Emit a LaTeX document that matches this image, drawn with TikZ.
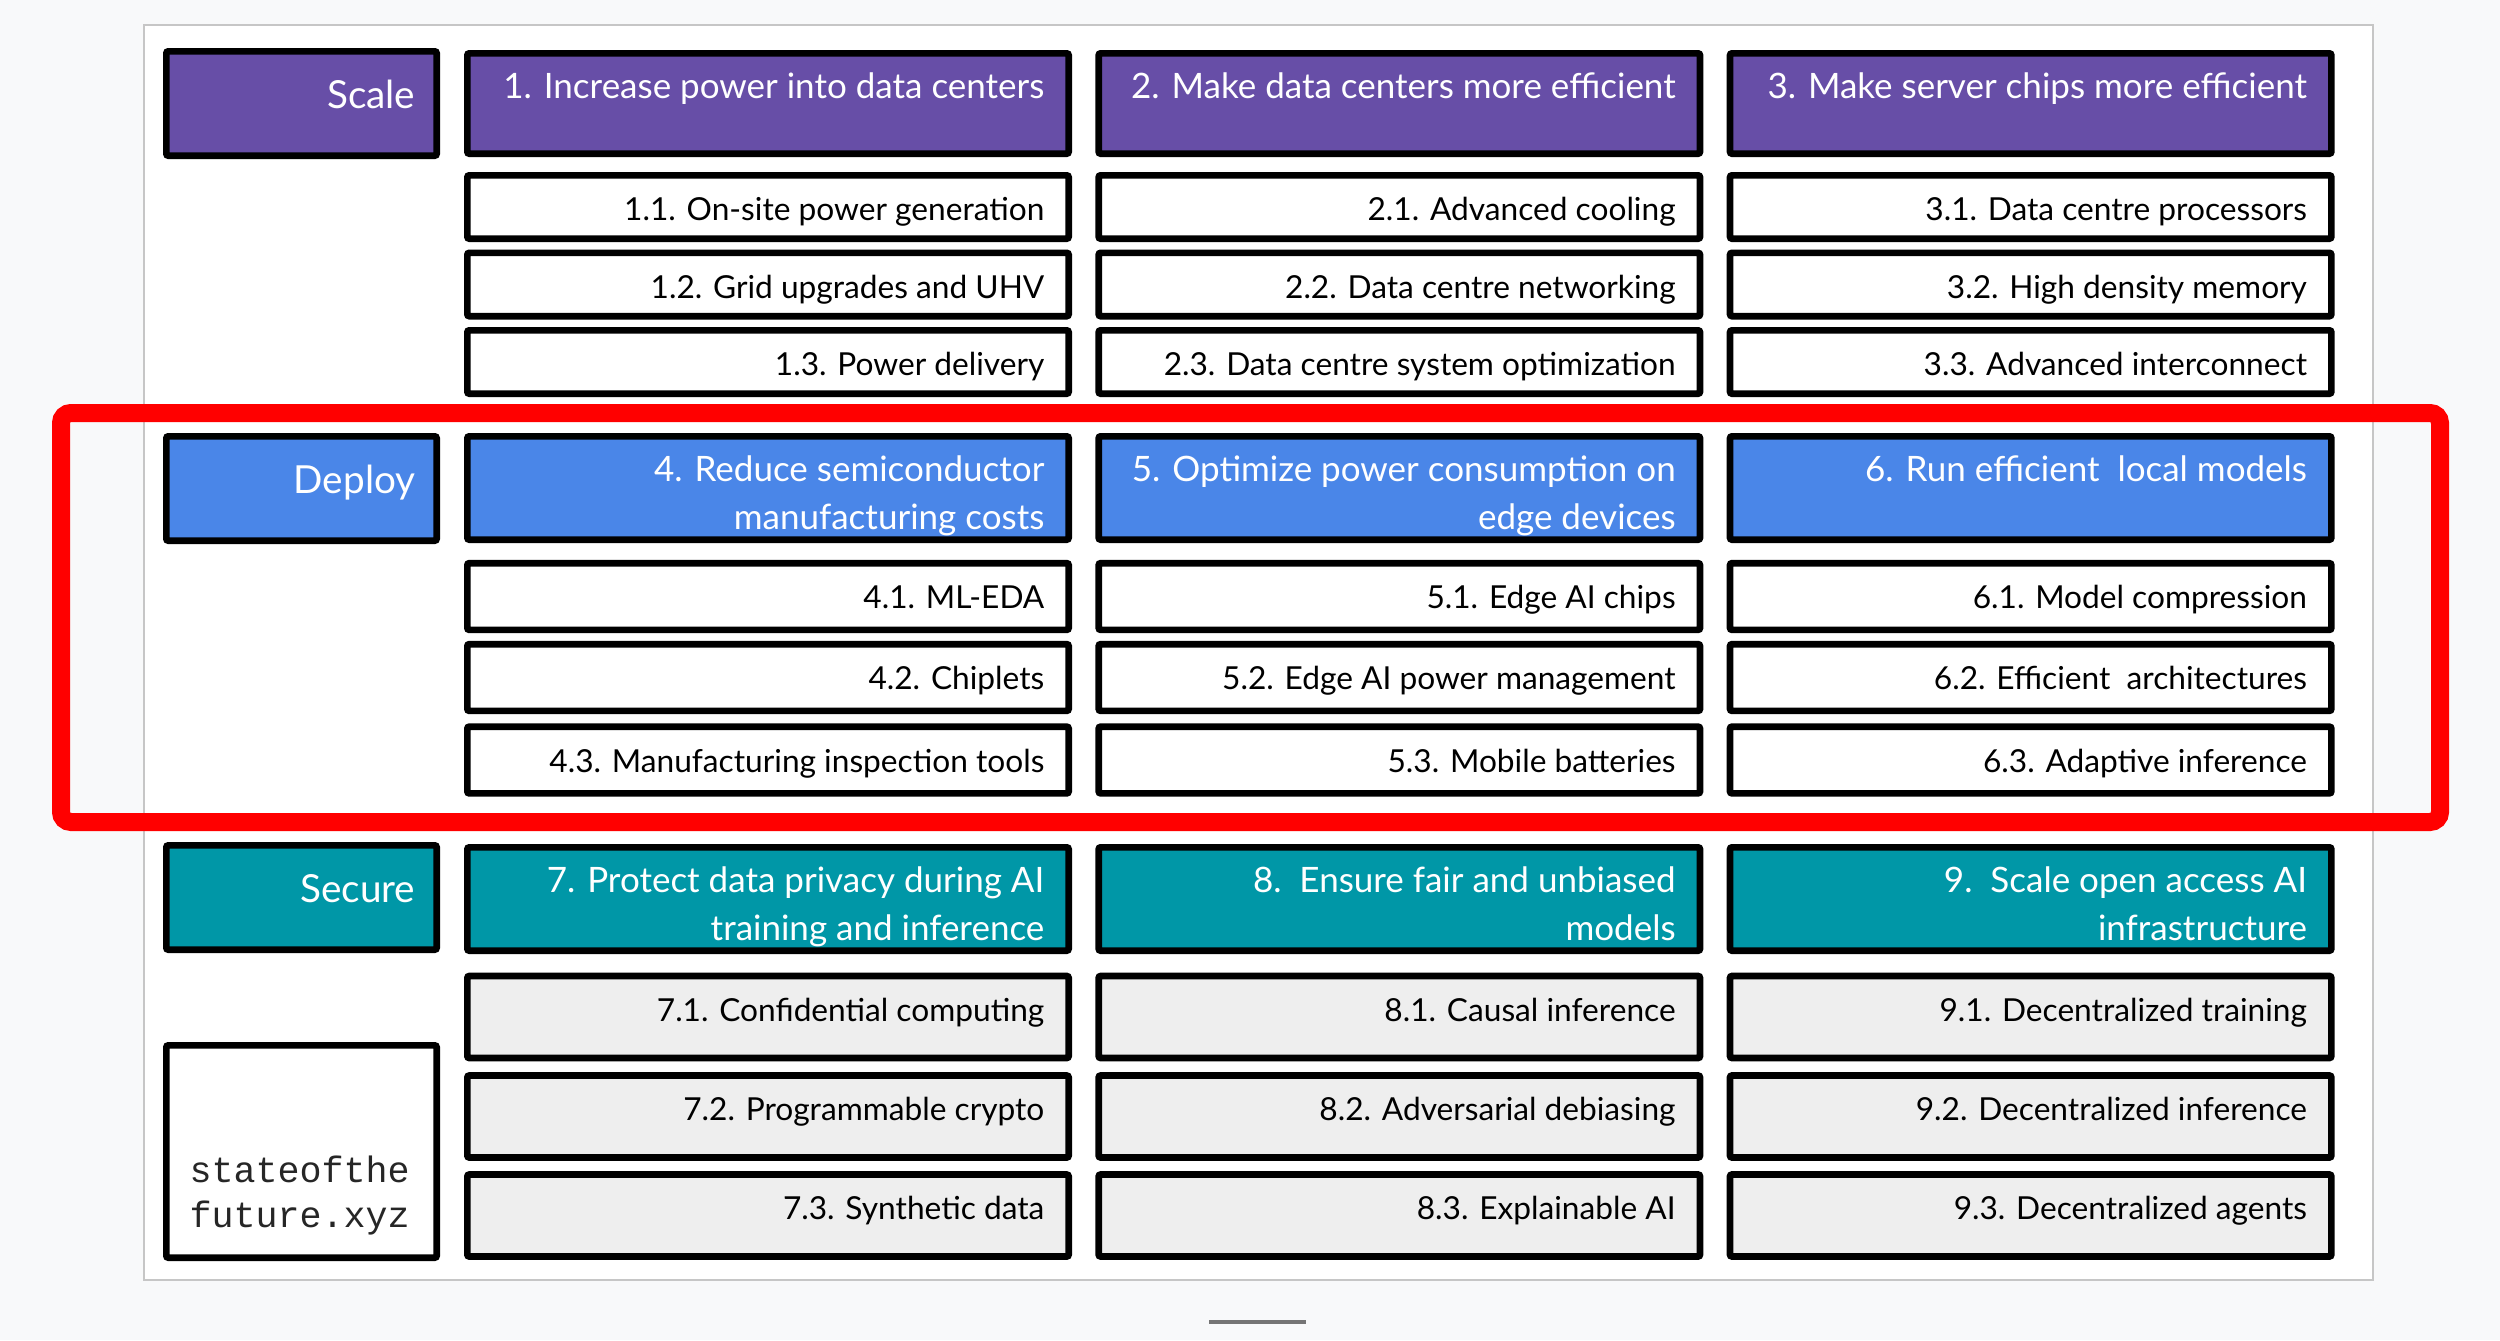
\documentclass[tikz,border=0pt]{standalone}
\usepackage{fontspec}
\setmainfont{Lato}
\setmonofont{Liberation Mono}
\definecolor{scalecol}{HTML}{674EA7}
\definecolor{deploycol}{HTML}{4A86E8}
\definecolor{securecol}{HTML}{0097A7}
\definecolor{securesub}{HTML}{EEEEEE}
\definecolor{pagebg}{HTML}{F8F9FA}
\definecolor{framecol}{HTML}{C6C6C6}
\definecolor{dashcol}{HTML}{757575}
\tikzset{
  cell/.style={draw=black, line width=2pt, rounded corners=0.6pt, inner sep=0pt, minimum width=180.4pt},
  tag/.style={cell, minimum width=81.1pt, minimum height=31.3pt},
  scalehead/.style={cell, fill=scalecol, minimum height=30.1pt},
  scalesub/.style={cell, fill=white, minimum height=19pt},
  deployhead/.style={cell, fill=deploycol, minimum height=31pt},
  deploysub/.style={cell, fill=white, minimum height=20pt},
  securehead/.style={cell, fill=securecol, minimum height=31pt},
  securesub/.style={cell, fill=securesub, minimum height=24.6pt},
  subtext/.style={anchor=north east, inner sep=0pt, xshift=-8.1pt, text=black,
    font=\fontsize{9.5}{12}\selectfont, execute at begin node={\rule{0pt}{14.4pt}}},
  headtext/.style={subtext, text=white, font=\fontsize{10.5}{13}\selectfont},
  headnext/.style={headtext, yshift=-14.3pt},
  tagtext/.style={anchor=north east, inner sep=0pt, xshift=-7.2pt, text=white,
    font=\fontsize{11.6}{14}\selectfont, execute at begin node={\rule{0pt}{18pt}}},
  logotext/.style={anchor=north west, inner sep=0pt, xshift=7.8pt, text=black!85,
    font=\ttfamily\fontsize{11}{13.5}\selectfont, execute at begin node={\rule{0pt}{42pt}}},
  logonext/.style={logotext, yshift=-13.5pt},
  redbox/.style={draw=red, line width=5.4pt, rounded corners=3pt}
}
\begin{document}
\begin{tikzpicture}[x=1pt,y=-1pt]
  \useasboundingbox (0,0) rectangle (750,402);
  \fill[pagebg] (0,0) rectangle (750,402);
  \draw[framecol, fill=white, line width=0.6pt] (43.2,7.5) rectangle (711.9,384);
  \draw[dashcol, line width=1.2pt] (362.7,396.6) -- (391.8,396.6);

  \node[tag, fill=scalecol, label={[tagtext]north east:Scale}] (scale) at (90.45,31.05) {};
  \node[scalehead, label={[headtext]north east:{1. Increase power into data centers}}] (h1) at (230.4,31.05) {};
  \node[scalehead, label={[headtext]north east:{2. Make data centers more efficient}}] (h2) at (419.8,31.05) {};
  \node[scalehead, label={[headtext]north east:{3. Make server chips more efficient}}] (h3) at (609.2,31.05) {};
  \node[scalesub, label={[subtext]north east:{1.1. On-site power generation}}] (s11) at (230.4,62.1) {};
  \node[scalesub, label={[subtext]north east:{1.2. Grid upgrades and UHV}}] (s12) at (230.4,85.35) {};
  \node[scalesub, label={[subtext]north east:{1.3. Power delivery}}] (s13) at (230.4,108.6) {};
  \node[scalesub, label={[subtext]north east:{2.1. Advanced cooling}}] (s21) at (419.8,62.1) {};
  \node[scalesub, label={[subtext]north east:{2.2. Data centre networking}}] (s22) at (419.8,85.35) {};
  \node[scalesub, label={[subtext]north east:{2.3. Data centre system optimization}}] (s23) at (419.8,108.6) {};
  \node[scalesub, label={[subtext]north east:{3.1. Data centre processors}}] (s31) at (609.2,62.1) {};
  \node[scalesub, label={[subtext]north east:{3.2. High density memory}}] (s32) at (609.2,85.35) {};
  \node[scalesub, label={[subtext]north east:{3.3. Advanced interconnect}}] (s33) at (609.2,108.6) {};

  \node[tag, fill=deploycol, label={[tagtext]north east:Deploy}] (deploy) at (90.45,146.55) {};
  \node[deployhead, label={[headtext]north east:{4. Reduce semiconductor}},
    label={[headnext]north east:{manufacturing costs}}] (h4) at (230.4,146.4) {};
  \node[deployhead, label={[headtext]north east:{5. Optimize power consumption on}},
    label={[headnext]north east:{edge devices}}] (h5) at (419.8,146.4) {};
  \node[deployhead, label={[headtext]north east:{6. Run efficient\ \ local models}}] (h6) at (609.2,146.4) {};
  \node[deploysub, label={[subtext]north east:{4.1. ML-EDA}}] (s41) at (230.4,178.95) {};
  \node[deploysub, label={[subtext]north east:{4.2. Chiplets}}] (s42) at (230.4,203.25) {};
  \node[deploysub, label={[subtext]north east:{4.3. Manufacturing inspection tools}}] (s43) at (230.4,228) {};
  \node[deploysub, label={[subtext]north east:{5.1. Edge AI chips}}] (s51) at (419.8,178.95) {};
  \node[deploysub, label={[subtext]north east:{5.2. Edge AI power management}}] (s52) at (419.8,203.25) {};
  \node[deploysub, label={[subtext]north east:{5.3. Mobile batteries}}] (s53) at (419.8,228) {};
  \node[deploysub, label={[subtext]north east:{6.1. Model compression}}] (s61) at (609.2,178.95) {};
  \node[deploysub, label={[subtext]north east:{6.2. Efficient\ \ architectures}}] (s62) at (609.2,203.25) {};
  \node[deploysub, label={[subtext]north east:{6.3. Adaptive inference}}] (s63) at (609.2,228) {};

  \node[tag, fill=securecol, label={[tagtext]north east:Secure}] (secure) at (90.45,269.25) {};
  \node[securehead, label={[headtext]north east:{7. Protect data privacy during AI}},
    label={[headnext]north east:{training and inference}}] (h7) at (230.4,269.7) {};
  \node[securehead, label={[headtext]north east:{8.\ \ Ensure fair and unbiased}},
    label={[headnext]north east:{models}}] (h8) at (419.8,269.7) {};
  \node[securehead, label={[headtext]north east:{9.\ \ Scale open access AI}},
    label={[headnext]north east:{infrastructure}}] (h9) at (609.2,269.7) {};
  \node[securesub, label={[subtext]north east:{7.1. Confidential computing}}] (s71) at (230.4,305.1) {};
  \node[securesub, label={[subtext]north east:{7.2. Programmable crypto}}] (s72) at (230.4,334.95) {};
  \node[securesub, label={[subtext]north east:{7.3. Synthetic data}}] (s73) at (230.4,364.65) {};
  \node[securesub, label={[subtext]north east:{8.1. Causal inference}}] (s81) at (419.8,305.1) {};
  \node[securesub, label={[subtext]north east:{8.2. Adversarial debiasing}}] (s82) at (419.8,334.95) {};
  \node[securesub, label={[subtext]north east:{8.3. Explainable AI}}] (s83) at (419.8,364.65) {};
  \node[securesub, label={[subtext]north east:{9.1. Decentralized training}}] (s91) at (609.2,305.1) {};
  \node[securesub, label={[subtext]north east:{9.2. Decentralized inference}}] (s92) at (609.2,334.95) {};
  \node[securesub, label={[subtext]north east:{9.3. Decentralized agents}}] (s93) at (609.2,364.65) {};

  \node[tag, fill=white, minimum height=63.7pt, label={[logotext]north west:stateofthe},
    label={[logonext]north west:future.xyz}] (logo) at (90.45,345.45) {};

  \draw[redbox] (18.3,123.9) rectangle (732,246.6);
\end{tikzpicture}
\end{document}
